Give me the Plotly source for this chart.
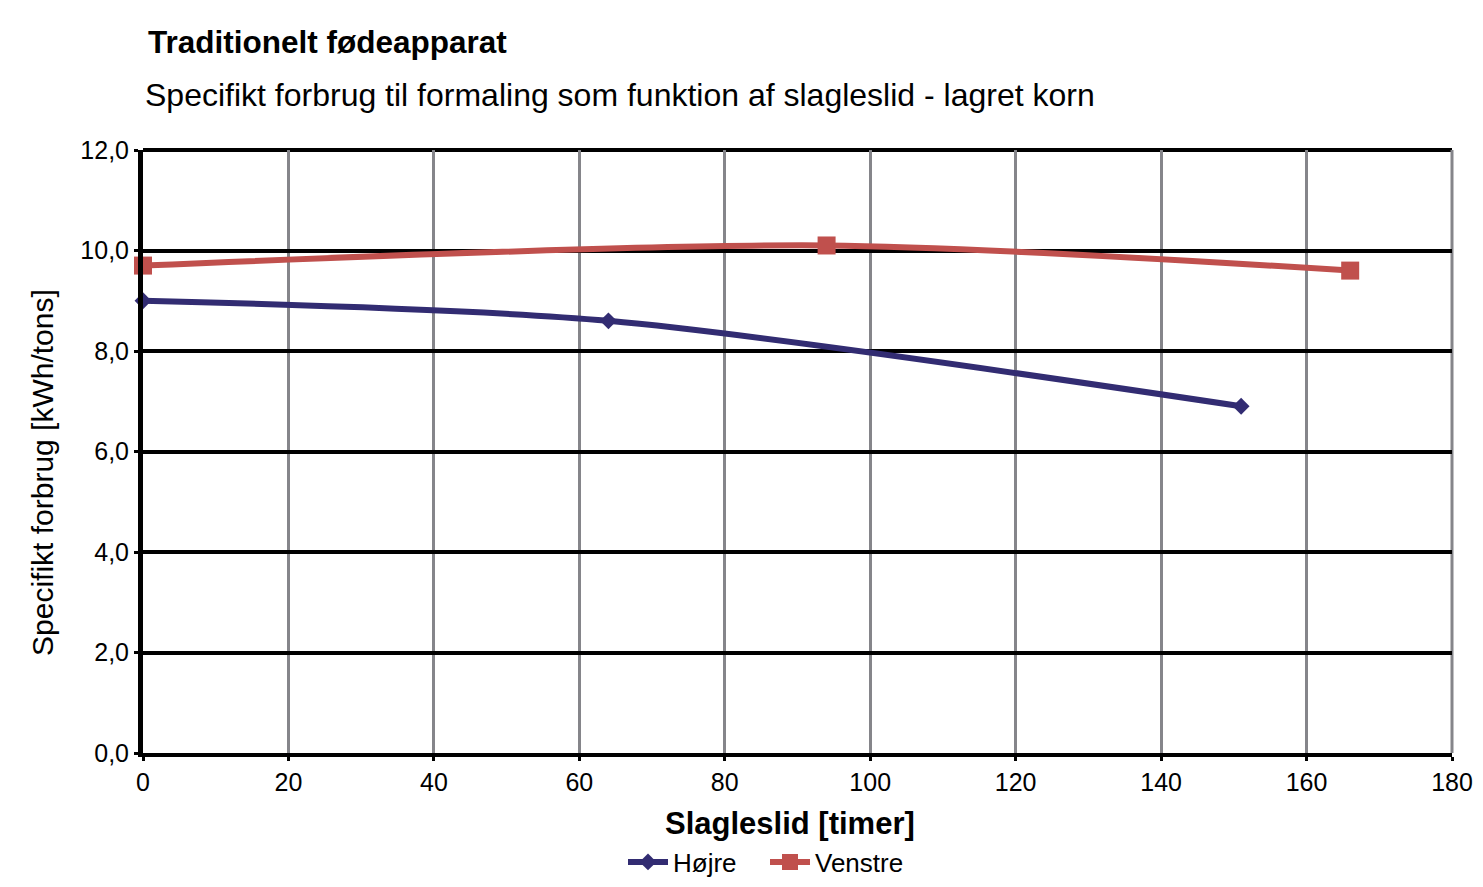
import plotly.graph_objects as go

hojre_x = [0, 64, 151]
hojre_y = [9.0, 8.6, 6.9]
venstre_x = [0, 94, 166]
venstre_y = [9.7, 10.1, 9.6]

x_ticks = [0, 20, 40, 60, 80, 100, 120, 140, 160, 180]
y_ticks = [0, 2, 4, 6, 8, 10, 12]

FONT = "Liberation Sans, Arial, sans-serif"

fig = go.Figure()
fig.add_trace(go.Scatter(
    x=hojre_x, y=hojre_y, name="Højre", mode="lines+markers",
    line=dict(color="#322C72", width=6, shape="spline", smoothing=0.8),
    marker=dict(symbol="diamond", size=13, color="#322C72"),
    cliponaxis=False,
))
fig.add_trace(go.Scatter(
    x=venstre_x, y=venstre_y, name="Venstre", mode="lines+markers",
    line=dict(color="#C0504D", width=6, shape="spline", smoothing=0.8),
    marker=dict(symbol="square", size=18, color="#C0504D"),
    cliponaxis=False,
))

fig.update_layout(
    width=1483, height=887,
    margin=dict(l=143, r=31, t=150, b=134, autoexpand=False),
    paper_bgcolor="white", plot_bgcolor="white",
    separators=", ",
    font=dict(family=FONT, color="black", size=24),
    showlegend=True,
    legend=dict(orientation="h", xref="container", x=623 / 1483, xanchor="left",
                yref="container", y=25 / 887, yanchor="middle",
                font=dict(size=26, family=FONT), itemwidth=40, traceorder="normal",
                entrywidth=87, entrywidthmode="pixels",
                bgcolor="rgba(0,0,0,0)"),
    annotations=[
        dict(text="<b>Traditionelt fødeapparat</b>", xref="paper", yref="paper",
             x=0.002, y=(753 - 42) / 603, xanchor="left", yanchor="middle",
             showarrow=False, font=dict(size=31.5, family=FONT)),
        dict(text="Specifikt forbrug til formaling som funktion af slagleslid - lagret korn",
             xref="paper", yref="paper", x=0.0, y=(753 - 95) / 603,
             xanchor="left", yanchor="middle", showarrow=False,
             font=dict(size=32, family=FONT)),
        dict(text="<b>Slagleslid [timer]</b>", xref="paper", yref="paper",
             x=(790 - 143) / 1309, y=(753 - 823) / 603, xanchor="center", yanchor="middle",
             showarrow=False, font=dict(size=31, family=FONT)),
        dict(text="Specifikt forbrug [kWh/tons]", xref="paper", yref="paper",
             x=(42 - 143) / 1309, y=(753 - 473) / 603, xanchor="center", yanchor="middle",
             textangle=-90, showarrow=False, font=dict(size=30, family=FONT)),
    ],
)

fig.update_xaxes(
    range=[0, 180], tickvals=x_ticks, ticktext=[str(v) for v in x_ticks],
    showgrid=True, gridcolor="#85858A", gridwidth=3,
    showline=True, linecolor="black", linewidth=4, mirror=False,
    ticks="outside", ticklen=4, tickwidth=3, tickcolor="black",
    zeroline=False, automargin=False,
    tickfont=dict(size=25),
)
fig.update_yaxes(
    range=[0, 12], tickvals=y_ticks, tickformat=".1f",
    showgrid=True, gridcolor="black", gridwidth=4,
    showline=True, linecolor="black", linewidth=5,
    ticks="outside", ticklen=4, tickwidth=3, tickcolor="black",
    zeroline=False, automargin=False,
    tickfont=dict(size=25),
)
# top/right border lines
fig.add_shape(type="line", xref="paper", yref="paper", x0=0, x1=1, y0=1, y1=1,
              line=dict(color="black", width=4), layer="below")
fig.add_shape(type="line", xref="paper", yref="paper", x0=1, x1=1, y0=0, y1=1,
              line=dict(color="#85858A", width=3), layer="below")

fig.write_html("out.html")
